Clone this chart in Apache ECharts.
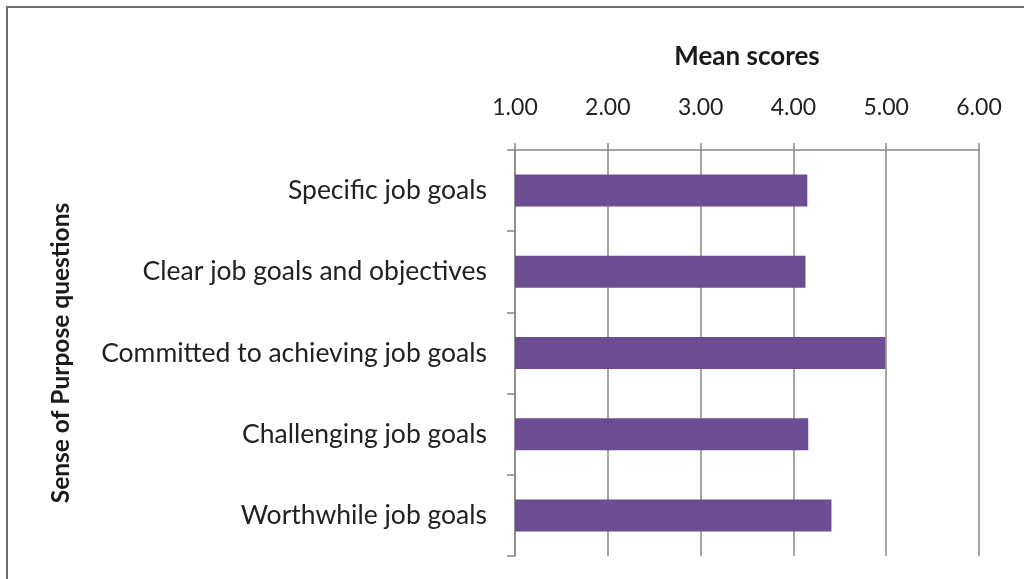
<!DOCTYPE html>
<html>
<head>
<meta charset="utf-8">
<style>
  html, body { margin: 0; padding: 0; background: #fff; }
  #frame { position: absolute; left: 6px; top: 6px; width: 1040px; height: 600px;
           border-left: 2px solid #6e6e6e; border-top: 2px solid #6e6e6e; box-sizing: border-box; }
  #chart { position: absolute; left: 0; top: 0; width: 1024px; height: 579px; }
</style>
<script src="https://cdn.jsdelivr.net/npm/echarts@6/dist/echarts.min.js"></script>
</head>
<body>
<div id="frame"></div>
<div id="chart"></div>
<script>
// Sense of Purpose survey items and their mean scores
const categories = [
  'Specific job goals',
  'Clear job goals and objectives',
  'Committed to achieving job goals',
  'Challenging job goals',
  'Worthwhile job goals'
];
const meanScores = [4.15, 4.13, 4.99, 4.16, 4.41];
const scaleMin = 1;
const scaleMax = 6;

const fontFamily = 'Lato, "Open Sans", sans-serif';
const chart = echarts.init(document.getElementById('chart'), null, { renderer: 'canvas' });

chart.setOption({
  animation: false,
  grid: { left: 515, right: 45, top: 150, bottom: 23, containLabel: false },
  xAxis: {
    type: 'value',
    position: 'top',
    min: scaleMin,
    max: scaleMax,
    interval: 1,
    name: 'Mean scores',
    nameLocation: 'middle',
    nameGap: 80,
    nameTextStyle: { fontFamily, fontSize: 26, fontWeight: 'bold', color: '#1a1a1a' },
    axisLine: { show: true, lineStyle: { color: '#8a8686', width: 1.5 } },
    axisTick: { show: true, inside: false, length: 7, lineStyle: { color: '#8a8686', width: 1.5 } },
    axisLabel: {
      margin: 31,
      fontFamily, fontSize: 23, color: '#222',
      formatter: v => v.toFixed(2)
    },
    splitLine: { show: true, lineStyle: { color: '#8a8686', width: 1.5 } }
  },
  yAxis: {
    type: 'category',
    data: categories,
    inverse: true,
    name: 'Sense of Purpose questions',
    nameLocation: 'middle',
    nameGap: 441,
    nameRotate: 90,
    nameTextStyle: { fontFamily, fontSize: 24.5, fontWeight: 'bold', color: '#1a1a1a' },
    axisLine: { show: true, lineStyle: { color: '#8a8686', width: 1.5 } },
    axisTick: { show: true, alignWithLabel: false, length: 8, lineStyle: { color: '#8a8686', width: 1.5 } },
    axisLabel: { margin: 28, fontFamily, fontSize: 26.5, color: '#222' },
    splitLine: { show: false }
  },
  series: [{
    type: 'bar',
    data: meanScores,
    barWidth: 32,
    itemStyle: { color: '#6b4e92' },
    silent: true
  }]
});
</script>
</body>
</html>
